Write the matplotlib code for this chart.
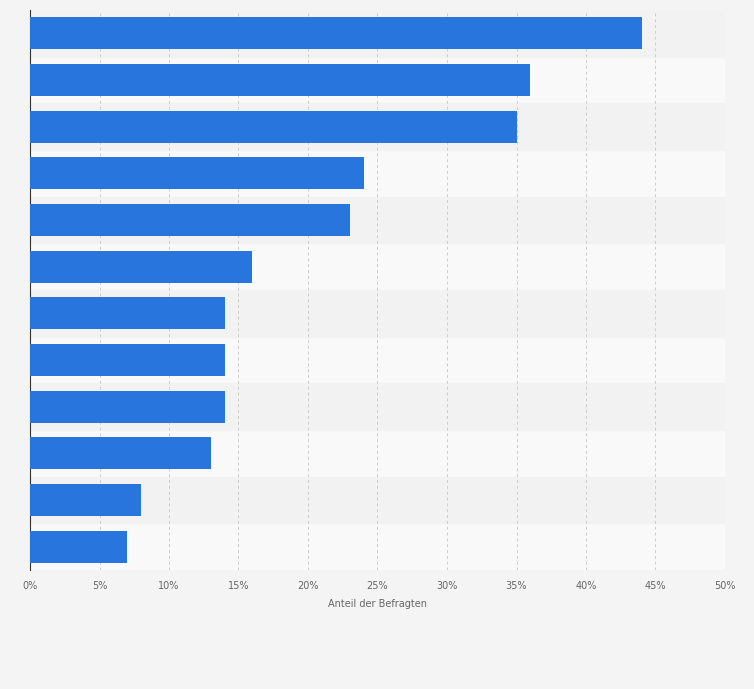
import numpy as np
import matplotlib.pyplot as plt

# share of respondents, top to bottom
values = [44, 36, 35, 24, 23, 16, 14, 14, 14, 13, 8, 7]
xticks = [0, 5, 10, 15, 20, 25, 30, 35, 40, 45, 50]
xticklabels = [str(t) + "%" for t in xticks]

fig = plt.figure(figsize=(7.54, 6.89), dpi=100)
fig.patch.set_facecolor("#f4f4f4")
ax = fig.add_axes([30 / 754, 1 - 570 / 689, 695 / 754, 560 / 689])
ax.set_facecolor("#f9f9f9")

n = len(values)
ypos = np.arange(n)

# alternating row bands
for i in range(n):
    if i % 2 == 0:
        ax.axhspan(i - 0.5, i + 0.5, color="#f2f2f2", zorder=0)

ax.barh(ypos, values, height=0.68, color="#2876dd", zorder=3)

ax.set_xlim(0, 50)
ax.set_ylim(n - 0.5, -0.5)
ax.set_xticks(xticks)
ax.set_xticklabels(xticklabels, fontsize=7, color="#666666")
ax.set_yticks([])
ax.tick_params(axis="x", length=0, pad=8)
ax.grid(axis="x", color="#cccccc", linestyle=(0, (3, 3)), linewidth=0.7, zorder=1)

for s in ["top", "right", "bottom"]:
    ax.spines[s].set_visible(False)
ax.spines["left"].set_color("#333333")
ax.spines["left"].set_linewidth(0.8)

ax.set_xlabel("Anteil der Befragten", fontsize=7, color="#666666", labelpad=6)

plt.savefig("out.png", dpi=100, facecolor=fig.get_facecolor())
